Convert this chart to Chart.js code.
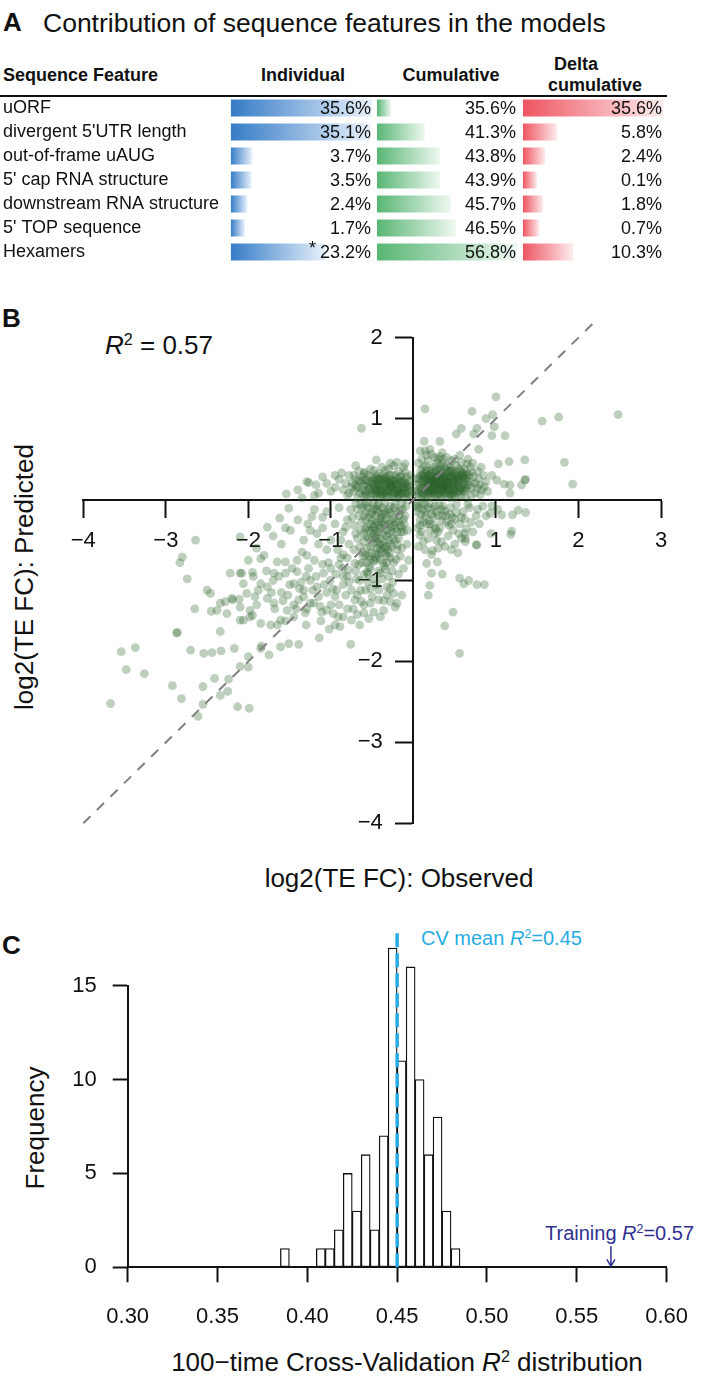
<!DOCTYPE html>
<html>
<head>
<meta charset="utf-8">
<script src="https://cdn.jsdelivr.net/npm/chart.js@4.4.1/dist/chart.umd.min.js"></script>
<style>
  html, body { margin: 0; padding: 0; background: #fff; }
  body { width: 709px; height: 1379px; position: relative; overflow: hidden;
         font-family: "Liberation Sans", Arial, sans-serif; color: #111; }
  .t { position: absolute; white-space: nowrap; line-height: 1; }
  .l { transform: translate(0, -50%); }
  .c { transform: translate(-50%, -50%); }
  .v { transform: translate(-50%, -50%) rotate(-90deg); }
  sup { font-size: 62%; vertical-align: 0.55em; line-height: 0; }
  canvas { position: absolute; }
  .rule { position: absolute; left: 0; top: 95px; width: 667px; height: 2px; background: #111; }
</style>
</head>
<body>
<!-- panel A text -->
<div class="t l" style="left:3px;top:22px;font-size:26px;font-weight:bold">A</div>
<div class="t l" style="left:43px;top:23px;font-size:26.5px">Contribution of sequence features in the models</div>
<div class="t l" style="left:3px;top:75px;font-size:18px;font-weight:bold">Sequence Feature</div>
<div class="t c" style="left:303px;top:75px;font-size:18px;font-weight:bold">Individual</div>
<div class="t c" style="left:451px;top:75px;font-size:18px;font-weight:bold">Cumulative</div>
<div class="t c" style="left:576px;top:64px;font-size:18px;font-weight:bold">Delta</div>
<div class="t c" style="left:595px;top:85px;font-size:18px;font-weight:bold">cumulative</div>
<div class="rule"></div>
<canvas id="cInd" width="372" height="168" style="left:0;top:96px"></canvas>
<canvas id="cCum" width="140" height="168" style="left:377px;top:96px"></canvas>
<canvas id="cDel" width="140" height="168" style="left:523px;top:96px"></canvas>

<!-- panel B text -->
<div class="t l" style="left:2px;top:318px;font-size:26px;font-weight:bold">B</div>
<div class="t l" style="left:105px;top:345px;font-size:26px"><i>R</i><sup>2</sup> = 0.57</div>
<div class="t v" style="left:24px;top:577px;font-size:26px">log2(TE FC): Predicted</div>
<div class="t c" style="left:399px;top:878px;font-size:26px">log2(TE FC): Observed</div>
<canvas id="cScatter" width="709" height="610" style="left:0;top:290px"></canvas>

<!-- panel C text -->
<div class="t l" style="left:2px;top:945px;font-size:26px;font-weight:bold">C</div>
<div class="t l" style="left:421px;top:938px;font-size:20px;color:#29abe2">CV mean <i>R</i><sup>2</sup>=0.45</div>
<div class="t l" style="left:545px;top:1233px;font-size:20px;color:#2e3192">Training <i>R</i><sup>2</sup>=0.57</div>
<div class="t v" style="left:35px;top:1128px;font-size:26px">Frequency</div>
<div class="t c" style="left:407px;top:1362px;font-size:26px">100−time Cross-Validation <i>R</i><sup>2</sup> distribution</div>
<canvas id="cHist" width="709" height="479" style="left:0;top:900px"></canvas>

<script>
// ---- panel A: contribution table
const features = ['uORF', "divergent 5'UTR length", 'out-of-frame uAUG', "5' cap RNA structure",
  'downstream RNA structure', "5' TOP sequence", 'Hexamers'];
const individual = [35.6, 35.1, 3.7, 3.5, 2.4, 1.7, 23.2];
const individualNote = ['', '', '', '', '', '', '*'];
const cumulative = [35.6, 41.3, 43.8, 43.9, 45.7, 46.5, 56.8];
const deltaCumulative = [35.6, 5.8, 2.4, 0.1, 1.8, 0.7, 10.3];

// ---- panel B: observed vs predicted log2(TE FC)
const scatterTicksX = [-4, -3, -2, -1, 1, 2, 3];
const scatterTicksY = [-4, -3, -2, -1, 1, 2];
const refLine = [-4, 2.24];
const scatterPoints = [
  // upper / right outliers
  [-0.63,0.88],[0.14,1.12],[1.00,1.27],[0.71,1.09],[0.96,1.05],[0.88,1.00],[2.48,1.05],[1.56,0.97],[1.76,1.02],
  [1.83,0.46],[1.93,0.19],[0.52,0.81],[0.58,0.88],[0.77,0.88],[0.73,0.81],[0.98,0.90],[0.95,0.79],[1.11,0.79],
  [0.79,0.62],[0.13,0.72],[0.32,0.72],[1.03,0.44],[1.16,0.47],[1.35,0.49],[1.35,0.24],[1.36,0.25],[1.31,0.18],
  [1.17,0.18],[1.17,0.08],[1.10,0.19],[1.01,0.24],[0.95,0.30],[0.14,0.60],[0.32,0.53],
  // right, below axis outliers
  [1.20,-0.19],[1.27,-0.13],[1.36,-0.16],[0.93,-0.17],[1.07,-0.19],[1.19,-0.39],[1.18,-0.43],[0.94,-0.42],
  [0.77,-0.56],[0.63,-0.48],[0.16,-0.79],[0.29,-0.77],[0.23,-0.63],[0.35,-0.92],[0.22,-0.91],[0.20,-1.06],
  [0.18,-1.18],[0.56,-0.97],[0.67,-1.00],[0.77,-1.05],[0.86,-1.05],[0.61,-1.04],[0.48,-1.39],[0.38,-1.56],
  [0.56,-1.90],[-0.06,-0.75],[-0.14,-1.18],[0.76,-0.56],[0.63,-0.52],
  // left of origin, sparse
  [-0.45,0.49],[-0.87,0.33],[-1.27,0.21],[-1.29,0.22],[-1.54,0.07],[-1.18,0.18],[-1.05,0.20],[-1.15,0.08],
  [-0.95,0.15],[-1.40,0.12],[-1.10,0.28],[-1.20,0.05],[-1.35,0.02],[-0.28,0.45],[-0.20,0.46],[-0.10,0.44],[-0.60,0.32],
  [-1.51,-0.11],[-1.62,-0.23],[-1.77,-0.34],[-1.49,-0.38],[-1.23,-0.21],[-1.25,-0.38],[-1.33,-0.50],[-1.17,-0.42],
  [-2.64,-0.50],[-2.80,-0.71],[-2.10,-0.46],[-1.81,-0.69],[-1.20,-0.12],[-1.10,-0.22],[-1.28,-0.30],[-1.40,-0.25],
  [-1.15,-0.55],[-1.35,-0.65],[-1.60,-0.55],[-1.70,-0.45],[-1.90,-0.60],[-2.00,-0.75],[-1.55,-0.35],[-1.95,-0.90],
  // lower-left tail
  [-3.67,-2.52],[-3.54,-1.88],[-3.37,-1.83],[-3.48,-2.10],[-3.26,-2.15],[-2.87,-1.65],[-2.86,-1.64],[-2.92,-2.30],
  [-2.81,-2.46],[-2.61,-2.68],[-2.55,-2.53],[-2.55,-2.31],[-2.41,-2.21],[-2.34,-2.42],[-2.25,-2.37],[-2.24,-2.22],
  [-2.13,-2.56],[-1.99,-2.58],[-2.10,-2.06],[-2.00,-2.07],[-2.00,-1.94],[-1.85,-1.84],[-1.75,-1.92],[-1.61,-1.82],
  [-1.51,-1.78],[-1.39,-1.79],[-1.14,-1.71],[-0.76,-1.79],[-1.84,-1.81],[-2.70,-1.86],[-2.54,-1.90],[-2.44,-1.89],
  [-2.33,-1.87],[-2.17,-1.84],[-2.74,-0.98],[-2.65,-1.35],[-2.50,-1.12],[-2.46,-1.16],[-2.83,-0.78],[-2.45,-1.38],
  [-2.34,-1.28],[-2.34,-1.63],[-2.26,-1.41],[-2.19,-1.24],[-2.11,-1.23],[-2.06,-1.49],[-1.98,-1.37],[-1.95,-1.43],
  [-2.22,-0.91],[-2.08,-0.91],[-2.06,-1.04],[-1.85,-0.73],[-1.65,-0.77],[-1.55,-0.77],[-1.41,-0.75],[-1.29,-0.69],
  // lower-left band
  [-2.10,-0.91],[-1.94,-0.95],[-1.85,-1.04],[-1.77,-1.08],[-1.69,-0.91],[-1.55,-0.91],[-1.45,-1.04],[-1.33,-1.12],
  [-1.41,-0.89],[-1.25,-1.00],[-1.17,-1.08],[-1.09,-0.91],[-1.01,-1.00],[-0.93,-1.12],[-0.85,-0.95],[-0.79,-0.87],
  [-0.71,-0.79],[-0.65,-1.00],[-0.54,-0.83],[-0.48,-0.75],[-0.40,-0.91],[-0.32,-1.08],[-0.24,-1.16],[-0.20,-1.28],
  [-2.10,-1.49],[-1.98,-1.45],[-1.85,-1.53],[-1.73,-1.55],[-1.65,-1.55],[-1.61,-1.49],[-1.77,-1.22],[-1.69,-1.28],
  [-1.53,-1.37],[-1.45,-1.30],[-1.39,-1.24],[-1.33,-1.20],[-1.29,-1.35],[-1.21,-1.28],[-1.11,-1.39],[-1.05,-1.37],
  [-0.97,-1.41],[-0.91,-1.45],[-0.95,-1.55],[-0.89,-1.57],[-0.75,-1.49],[-0.65,-1.55],[-0.54,-1.47],[-0.48,-1.39],
  [-0.36,-1.37],[-0.28,-1.26],[-0.22,-1.33],[-0.71,-1.24],[-0.63,-1.26],[-0.52,-1.28],[-0.42,-1.24],[-0.32,-1.18],
  [-2.38,-1.37],[-2.28,-1.26],[-2.20,-1.22],[-2.10,-1.33],[-2.02,-1.16],[-1.90,-1.30],
  [-1.20,-0.75],[-1.10,-0.80],[-1.00,-0.85],[-0.90,-0.80],[-0.80,-0.95],[-0.70,-0.88],[-0.60,-0.92],[-0.55,-1.02],
  [-0.45,-1.05],[-0.38,-0.98],[-0.30,-0.95],[-0.25,-1.02],[-0.18,-0.92],[-0.12,-0.85],[-0.35,-0.82],[-0.62,-0.78],
  [-0.88,-0.72],[-1.05,-1.15],[-0.95,-1.20],[-0.85,-1.05],[-0.75,-1.12],[-0.68,-1.18],[-0.58,-1.12],[-0.50,-1.20],
  [-0.42,-1.12],[-0.36,-1.25],[-0.28,-1.10],[-1.15,-1.20],[-1.30,-0.95],[-1.38,-1.10],[-1.50,-1.05],[-1.60,-1.15],
  [-1.70,-1.00],[-1.25,-1.28],[-1.45,-1.45],[-1.00,-1.30],[-0.80,-1.35],[-0.60,-1.40],[-0.40,-1.45],
  [-1.78,-0.88],[-1.72,-1.15],[-1.63,-0.95],[-1.58,-1.25],[-1.52,-1.18],[-1.47,-0.85],[-1.42,-1.35],[-1.36,-1.02],
  [-1.31,-1.40],[-1.27,-0.85],[-1.22,-1.12],[-1.18,-0.95],[-1.13,-1.32],[-1.08,-1.05],[-1.03,-0.78],[-0.98,-1.10],
  [-0.94,-0.92],[-0.90,-1.30],[-0.86,-0.85],[-0.82,-1.18],[-0.78,-1.02],[-0.73,-1.35],[-0.69,-0.98],[-0.64,-1.12],
  [-0.60,-1.30],[-0.56,-0.90],[-0.52,-1.10],[-1.12,-1.50],[-1.30,-1.55],[-1.02,-1.60],[-0.85,-1.45],[-0.68,-1.42],
  [-1.55,-1.50],[-1.68,-1.35],[-1.88,-1.12],[-1.92,-1.20],
  // dense column below origin
  [-0.70,-0.05],[-0.62,-0.10],[-0.55,-0.04],[-0.48,-0.12],[-0.42,-0.06],[-0.35,-0.14],[-0.28,-0.08],[-0.20,-0.15],
  [-0.14,-0.05],[-0.66,-0.20],[-0.58,-0.25],[-0.50,-0.18],[-0.44,-0.28],[-0.38,-0.22],[-0.30,-0.30],[-0.24,-0.24],
  [-0.16,-0.32],[-0.10,-0.20],[-0.72,-0.32],[-0.64,-0.38],[-0.56,-0.34],[-0.48,-0.42],[-0.40,-0.36],[-0.33,-0.45],
  [-0.26,-0.40],[-0.18,-0.48],[-0.68,-0.48],[-0.60,-0.52],[-0.52,-0.58],[-0.44,-0.52],[-0.36,-0.60],[-0.28,-0.55],
  [-0.20,-0.62],[-0.12,-0.40],[-0.08,-0.55],[-0.62,-0.65],[-0.54,-0.70],[-0.46,-0.66],[-0.40,-0.74],[-0.32,-0.70],
  [-0.24,-0.78],[-0.16,-0.70],[-0.76,-0.12],[-0.80,-0.25],[-0.85,-0.40],[-0.78,-0.55],[-0.72,-0.62],[-0.90,-0.10],
  [-0.95,-0.30],[-1.00,-0.50],[-0.92,-0.62],[-0.85,-0.68],[-1.05,-0.15],[-1.10,-0.35],[-1.05,-0.62],[-0.52,-0.85],
  [-0.45,-0.08],[-0.38,-0.18],[-0.58,-0.15],[-0.52,-0.30],[-0.46,-0.38],[-0.34,-0.32],[-0.22,-0.36],[-0.60,-0.42],
  [-0.50,-0.48],[-0.30,-0.50],[-0.40,-0.62],[-0.56,-0.60],
  [-0.68,-0.12],[-0.63,-0.28],[-0.59,-0.06],[-0.57,-0.46],[-0.54,-0.22],[-0.53,-0.38],[-0.49,-0.06],[-0.47,-0.30],
  [-0.45,-0.46],[-0.43,-0.16],[-0.41,-0.56],[-0.39,-0.28],[-0.37,-0.42],[-0.35,-0.04],[-0.33,-0.24],[-0.31,-0.62],
  [-0.29,-0.16],[-0.27,-0.34],[-0.25,-0.48],[-0.23,-0.10],[-0.21,-0.28],[-0.19,-0.56],[-0.17,-0.20],[-0.15,-0.40],
  [-0.13,-0.12],[-0.11,-0.30],[-0.09,-0.08],[-0.07,-0.38],[-0.65,-0.58],[-0.61,-0.70],[-0.57,-0.78],[-0.51,-0.66],
  [-0.47,-0.76],[-0.43,-0.68],[-0.37,-0.78],[-0.33,-0.58],[-0.29,-0.66],[-0.26,-0.88],[-0.21,-0.74],[-0.14,-0.60],
  [-0.70,-0.42],[-0.74,-0.22],[-0.82,-0.34],[-0.88,-0.50],[-0.80,-0.72],[-0.66,-0.80],[-0.55,-0.92],[-0.42,-0.88],
  [-0.34,-0.86],[-0.48,-0.98],
  [-0.55,-0.10],[-0.52,-0.16],[-0.50,-0.26],[-0.48,-0.34],[-0.46,-0.20],[-0.44,-0.12],[-0.42,-0.40],[-0.40,-0.24],
  [-0.38,-0.10],[-0.36,-0.32],[-0.34,-0.18],[-0.32,-0.38],[-0.30,-0.12],[-0.28,-0.26],[-0.26,-0.18],[-0.24,-0.32],
  [-0.22,-0.06],[-0.20,-0.40],[-0.18,-0.26],[-0.16,-0.14],[-0.14,-0.34],[-0.12,-0.24],[-0.50,-0.38],[-0.46,-0.48],
  [-0.44,-0.60],[-0.40,-0.48],[-0.36,-0.52],[-0.34,-0.66],[-0.30,-0.42],[-0.26,-0.58],[-0.22,-0.50],[-0.48,-0.54],
  [-0.42,-0.32],[-0.38,-0.56],[-0.54,-0.48],[-0.58,-0.36],[-0.60,-0.20],[-0.64,-0.06],[-0.45,-0.72],[-0.39,-0.66],
  [-0.32,-0.78],[-0.28,-0.72],[-0.52,-0.74],[-0.58,-0.68],
  // dense cluster left of origin
  [-0.80,0.05],[-0.75,0.15],[-0.70,0.25],[-0.65,0.08],[-0.60,0.18],[-0.55,0.30],[-0.52,0.04],[-0.48,0.12],
  [-0.45,0.22],[-0.42,0.32],[-0.38,0.06],[-0.35,0.16],[-0.32,0.26],[-0.28,0.10],[-0.25,0.20],[-0.22,0.30],
  [-0.18,0.05],[-0.15,0.14],[-0.12,0.24],[-0.08,0.08],[-0.05,0.18],[-0.03,0.30],[-0.62,0.28],[-0.58,0.10],
  [-0.50,0.20],[-0.40,0.12],[-0.30,0.04],[-0.20,0.12],[-0.10,0.02],[-0.44,0.02],[-0.36,0.24],[-0.26,0.30],
  [-0.16,0.22],[-0.68,0.02],[-0.72,0.10],[-0.85,0.12],[-0.90,0.25],[-0.78,0.30],[-0.66,0.35],[-0.48,0.36],
  [-0.30,0.38],[-0.18,0.35],[-0.08,0.28],[-0.55,0.16],[-0.45,0.08],[-0.33,0.19],[-0.23,0.08],[-0.13,0.18],
  [-0.06,0.12],[-1.00,0.10],[-0.95,0.30],[-0.70,0.42],[-0.24,0.42],[-0.12,0.40],[-0.38,0.40],
  [-0.78,0.08],[-0.74,0.20],[-0.69,0.14],[-0.64,0.22],[-0.61,0.06],[-0.57,0.24],[-0.54,0.12],[-0.51,0.28],
  [-0.47,0.06],[-0.46,0.16],[-0.43,0.26],[-0.41,0.08],[-0.39,0.18],[-0.37,0.30],[-0.34,0.10],[-0.31,0.22],
  [-0.29,0.14],[-0.27,0.24],[-0.24,0.04],[-0.21,0.18],[-0.19,0.26],[-0.17,0.10],[-0.14,0.30],[-0.11,0.14],
  [-0.09,0.20],[-0.07,0.04],[-0.04,0.24],[-0.02,0.10],[-0.56,0.04],[-0.49,0.24],[-0.44,0.14],[-0.36,0.08],
  [-0.33,0.28],[-0.26,0.16],[-0.19,0.02],[-0.13,0.08],[-0.06,0.16],[-0.66,0.16],[-0.59,0.34],[-0.40,0.26],
  [-0.28,0.20],[-0.16,0.28],[-0.82,0.20],[-0.72,0.30],[-0.52,0.38],[-0.34,0.36],[-0.10,0.34],[-0.04,0.06],
  [-0.58,0.06],[-0.56,0.20],[-0.53,0.14],[-0.50,0.08],[-0.48,0.18],[-0.46,0.26],[-0.44,0.10],[-0.42,0.20],
  [-0.40,0.04],[-0.38,0.14],[-0.36,0.20],[-0.34,0.06],[-0.32,0.14],[-0.30,0.22],[-0.28,0.16],[-0.26,0.06],
  [-0.24,0.14],[-0.22,0.22],[-0.20,0.08],[-0.18,0.16],[-0.16,0.06],[-0.14,0.22],[-0.12,0.12],[-0.10,0.08],
  [-0.08,0.16],[-0.52,0.22],[-0.47,0.12],[-0.43,0.18],[-0.39,0.10],[-0.35,0.26],[-0.31,0.10],[-0.27,0.18],
  [-0.23,0.24],[-0.19,0.12],[-0.15,0.08],[-0.11,0.20],[-0.62,0.12],[-0.60,0.24],[-0.66,0.24],[-0.70,0.18],
  [-0.45,0.30],[-0.29,0.30],[-0.20,0.20],[-0.41,0.24],[-0.33,0.04],[-0.25,0.10],
  // dense cluster right of origin
  [0.05,0.05],[0.10,0.15],[0.15,0.25],[0.20,0.08],[0.25,0.18],[0.30,0.30],[0.35,0.10],[0.40,0.22],
  [0.45,0.35],[0.50,0.05],[0.55,0.15],[0.60,0.28],[0.65,0.12],[0.70,0.22],[0.75,0.08],[0.80,0.18],
  [0.85,0.30],[0.08,0.30],[0.12,0.40],[0.18,0.48],[0.22,0.35],[0.28,0.45],[0.32,0.20],[0.38,0.40],
  [0.42,0.12],[0.48,0.25],[0.52,0.42],[0.58,0.05],[0.62,0.38],[0.68,0.30],[0.72,0.45],[0.78,0.35],
  [0.04,0.18],[0.14,0.02],[0.24,0.28],[0.28,0.05],[0.34,0.32],[0.44,0.02],[0.54,0.30],[0.64,0.02],
  [0.70,0.05],[0.90,0.10],[0.88,0.22],[0.82,0.40],[0.06,0.45],[0.16,0.55],[0.26,0.52],[0.36,0.50],
  [0.46,0.48],[0.56,0.55],[0.20,0.20],[0.30,0.14],[0.40,0.30],[0.26,0.10],[0.36,0.24],[0.46,0.16],
  [0.16,0.36],[0.10,0.24],[0.22,0.14],[0.33,0.04],[0.42,0.42],[0.50,0.18],[0.60,0.20],[0.70,0.14],
  [0.38,0.16],[0.18,0.10],[0.12,0.32],[0.28,0.36],[0.48,0.08],[0.32,0.42],[0.58,0.46],[0.66,0.50],
  [0.08,0.60],[0.20,0.62],[0.35,0.58],
  [0.03,0.10],[0.07,0.20],[0.11,0.08],[0.13,0.28],[0.17,0.16],[0.19,0.30],[0.21,0.04],[0.23,0.22],
  [0.27,0.26],[0.29,0.12],[0.31,0.36],[0.33,0.16],[0.37,0.28],[0.39,0.06],[0.41,0.18],[0.43,0.28],
  [0.47,0.12],[0.49,0.32],[0.51,0.22],[0.53,0.10],[0.57,0.24],[0.59,0.34],[0.61,0.10],[0.63,0.26],
  [0.67,0.18],[0.69,0.40],[0.73,0.28],[0.77,0.14],[0.79,0.26],[0.83,0.12],[0.09,0.36],[0.15,0.42],
  [0.25,0.40],[0.35,0.44],[0.45,0.40],[0.55,0.38],[0.65,0.44],[0.05,0.26],[0.15,0.10],[0.25,0.06],
  [0.35,0.20],[0.45,0.26],[0.55,0.06],[0.65,0.32],[0.75,0.20],[0.10,0.50],[0.22,0.56],[0.30,0.50],
  [0.40,0.52],[0.50,0.50],[0.13,0.18],[0.19,0.24],[0.27,0.18],[0.33,0.26],[0.39,0.22],[0.43,0.08],
  [0.49,0.16],[0.57,0.14],[0.24,0.12],[0.31,0.08],[0.37,0.12],[0.17,0.04],[0.21,0.28],[0.41,0.36],
  [0.47,0.04],[0.53,0.26],[0.61,0.32],[0.71,0.34],[0.81,0.06],[0.86,0.16],
  [0.06,0.08],[0.08,0.14],[0.10,0.04],[0.12,0.22],[0.14,0.12],[0.16,0.20],[0.18,0.30],[0.20,0.14],
  [0.22,0.24],[0.24,0.18],[0.26,0.34],[0.28,0.22],[0.30,0.06],[0.32,0.28],[0.34,0.14],[0.36,0.34],
  [0.38,0.26],[0.40,0.10],[0.42,0.24],[0.44,0.34],[0.46,0.22],[0.48,0.30],[0.50,0.12],[0.52,0.34],
  [0.54,0.20],[0.56,0.10],[0.58,0.30],[0.60,0.12],[0.62,0.20],[0.64,0.30],
  [0.07,0.26],[0.09,0.10],[0.11,0.30],[0.13,0.06],[0.15,0.32],[0.17,0.22],[0.19,0.12],[0.21,0.38],
  [0.23,0.08],[0.25,0.24],[0.27,0.14],[0.29,0.30],[0.31,0.18],[0.33,0.38],[0.35,0.06],[0.37,0.18],
  [0.39,0.32],[0.41,0.14],[0.43,0.20],[0.45,0.06],[0.47,0.36],[0.49,0.10],[0.51,0.28],[0.53,0.18],
  [0.55,0.28],[0.57,0.36],[0.59,0.16],[0.61,0.26],[0.63,0.14],[0.65,0.22],
  [0.12,0.14],[0.18,0.18],[0.24,0.22],[0.30,0.24],[0.36,0.16],[0.42,0.20],[0.48,0.20],[0.54,0.24],
  [0.20,0.32],[0.28,0.28],[0.34,0.22],[0.40,0.16],[0.46,0.28],[0.16,0.26],[0.22,0.10],[0.32,0.12],
  [0.38,0.08],[0.44,0.12],[0.26,0.20],[0.36,0.28],
  // right of origin, below axis
  [0.05,-0.05],[0.12,-0.12],[0.20,-0.05],[0.28,-0.15],[0.36,-0.08],[0.44,-0.18],[0.52,-0.06],[0.60,-0.15],
  [0.68,-0.10],[0.76,-0.20],[0.84,-0.08],[0.08,-0.25],[0.16,-0.30],[0.24,-0.22],[0.32,-0.35],[0.40,-0.28],
  [0.48,-0.38],[0.56,-0.30],[0.64,-0.36],[0.72,-0.40],[0.10,-0.40],[0.18,-0.48],[0.26,-0.42],[0.34,-0.52],
  [0.42,-0.45],[0.50,-0.55],[0.58,-0.48],[0.06,-0.58],[0.14,-0.62],[0.22,-0.68],[0.30,-0.60],[0.04,-0.15],
  [0.15,-0.20],[0.35,-0.20],[0.45,-0.10],[0.25,-0.32],[0.05,-0.35],[0.62,-0.42],[0.80,-0.30],[0.88,-0.20],
  [0.95,-0.08],[1.02,-0.12],
  [0.03,-0.08],[0.09,-0.18],[0.14,-0.06],[0.19,-0.26],[0.23,-0.12],[0.27,-0.36],[0.31,-0.06],[0.34,-0.26],
  [0.38,-0.14],[0.43,-0.32],[0.47,-0.22],[0.52,-0.16],[0.55,-0.42],[0.62,-0.24],[0.66,-0.06],[0.12,-0.52],
  [0.20,-0.38],[0.28,-0.50],[0.08,-0.44],[0.38,-0.58],[0.46,-0.62],[0.54,-0.66],[0.70,-0.28],[0.78,-0.12],
  [0.06,-0.10],[0.10,-0.06],[0.14,-0.16],[0.18,-0.10],[0.22,-0.18],[0.26,-0.08],[0.30,-0.20],[0.34,-0.12],
  [0.40,-0.20],[0.46,-0.30],[0.12,-0.28],[0.20,-0.30],[0.30,-0.40],[0.08,-0.32],[0.50,-0.24],[0.58,-0.22]
];

// ---- panel C: 100-time cross-validation R^2 histogram
const binStarts = [0.385, 0.405, 0.410, 0.415, 0.420, 0.425, 0.430, 0.435, 0.440,
  0.445, 0.450, 0.455, 0.460, 0.465, 0.470, 0.475, 0.480];
const binCounts = [1, 1, 1, 2, 5, 3, 6, 2, 7, 17, 11, 16, 10, 6, 8, 3, 1];
const binWidth = 0.005;
const histTicksX = [0.30, 0.35, 0.40, 0.45, 0.50, 0.55, 0.60];
const histTicksY = [0, 5, 10, 15];
const cvMeanR2 = 0.45;
const cvLineTop = 17.8;
const trainingR2 = 0.569;

const FONT = '"Liberation Sans", Arial, sans-serif';
const INK = '#111';

// excel-like data bars: smallest value gets 10% of the cell
function dataBarRange(vals) {
  const lo = Math.min(...vals), hi = Math.max(...vals);
  return { min: lo - (hi - lo) / 9, max: hi };
}

function gradientFill(c0, c1) {
  return function(ctx) {
    const chart = ctx.chart;
    if (!chart.chartArea || ctx.type !== 'data') return c0;
    const xs = chart.scales.x;
    const x0 = xs.getPixelForValue(xs.min);
    const x1 = xs.getPixelForValue(ctx.raw);
    const g = chart.ctx.createLinearGradient(x0, 0, x1, 0);
    g.addColorStop(0, c0);
    g.addColorStop(1, c1);
    return g;
  };
}

const valueLabels = {
  id: 'valueLabels',
  afterDatasetsDraw(chart, args, opts) {
    const { ctx, chartArea } = chart;
    const meta = chart.getDatasetMeta(0);
    ctx.save();
    ctx.font = '18px ' + FONT;
    ctx.fillStyle = INK;
    ctx.textAlign = 'right';
    ctx.textBaseline = 'middle';
    meta.data.forEach((bar, i) => {
      const txt = opts.values[i].toFixed(1) + '%';
      ctx.fillText(txt, chartArea.right - 1, bar.y + 1);
      if (opts.notes && opts.notes[i]) {
        const w = ctx.measureText(txt).width;
        ctx.fillText(opts.notes[i], chartArea.right - 1 - w - 4, bar.y - 3);
      }
    });
    ctx.restore();
  }
};

function tableColumn(id, values, colors, notes, showNames) {
  const r = dataBarRange(values);
  const yScale = {
    display: showNames,
    grid: { display: false },
    border: { display: false },
    ticks: { autoSkip: false, crossAlign: 'far', color: INK, font: { size: 18, family: FONT } }
  };
  if (showNames) {
    yScale.afterFit = s => { s.width = 227.7; s.paddingTop = 0; s.paddingBottom = 0; };
  }
  return new Chart(document.getElementById(id), {
    type: 'bar',
    data: {
      labels: features,
      datasets: [{
        data: values,
        base: r.min,
        backgroundColor: gradientFill(colors[0], colors[1]),
        borderWidth: 0,
        barPercentage: 0.71,
        categoryPercentage: 1
      }]
    },
    options: {
      responsive: false,
      animation: false,
      indexAxis: 'y',
      layout: { padding: { left: showNames ? 3 : 0, right: 0, top: 0, bottom: 0 } },
      plugins: {
        legend: { display: false },
        tooltip: { enabled: false },
        valueLabels: { values: values, notes: notes }
      },
      scales: {
        x: { display: false, min: r.min, max: r.max },
        y: yScale
      }
    },
    plugins: [valueLabels]
  });
}

tableColumn('cInd', individual, ['#347bc6', '#e9f2fb'], individualNote, true);
tableColumn('cCum', cumulative, ['#58b674', '#eff8f1'], null, false);
tableColumn('cDel', deltaCumulative, ['#ee5561', '#fdeced'], null, false);

// ---- scatter
function minusFmt(v) { return v < 0 ? '\u2212' + Math.abs(v) : String(v); }

function axisStyle(ticks, tl, pad) {
  return {
    border: { color: INK, width: 2 },
    grid: { drawOnChartArea: false, drawTicks: true, tickLength: tl, tickWidth: 2, tickColor: INK },
    ticks: { padding: pad, color: INK, font: { size: 22, family: FONT }, maxRotation: 0 },
    afterBuildTicks(s) { s.ticks = ticks.map(v => ({ value: v })); }
  };
}

const sx = axisStyle(scatterTicksX, 17, 11);
sx.ticks.callback = minusFmt;
const sy = axisStyle(scatterTicksY, 17, 13);
// labels of an axis placed at x = 0 sit on the line itself; trailing spaces push them left of the ticks
sy.ticks.callback = v => minusFmt(v) + '     ';

new Chart(document.getElementById('cScatter'), {
  type: 'scatter',
  data: {
    datasets: [
      {
        type: 'line',
        data: refLine.map(v => ({ x: v, y: v })),
        borderColor: '#808080',
        borderWidth: 2,
        borderDash: [10, 9],
        pointRadius: 0,
        clip: false,
        order: 0
      },
      {
        data: scatterPoints.map(p => ({ x: p[0], y: p[1] })),
        backgroundColor: 'rgba(40,95,40,0.3)',
        borderWidth: 0,
        pointRadius: 4.4,
        order: 1
      }
    ]
  },
  options: {
    responsive: false,
    animation: false,
    layout: { padding: { left: 83.3, right: 48, top: 47.7, bottom: 76.7 } },
    plugins: { legend: { display: false }, tooltip: { enabled: false } },
    scales: {
      x: Object.assign({ type: 'linear', min: -4, max: 3, position: { y: 0 } }, sx),
      y: Object.assign({ type: 'linear', min: -4, max: 2, position: { x: 0 } }, sy)
    }
  }
});

// ---- histogram
const trainingArrow = {
  id: 'trainingArrow',
  afterDatasetsDraw(chart) {
    const { ctx, scales } = chart;
    const x = scales.x.getPixelForValue(trainingR2);
    const yb = scales.y.getPixelForValue(0) - 1;
    const yt = yb - 20;
    ctx.save();
    ctx.strokeStyle = '#2e3192';
    ctx.lineWidth = 1.5;
    ctx.beginPath();
    ctx.moveTo(x, yt); ctx.lineTo(x, yb);
    ctx.moveTo(x - 4, yb - 7); ctx.lineTo(x, yb); ctx.lineTo(x + 4, yb - 7);
    ctx.stroke();
    ctx.restore();
  }
};

const hx = axisStyle(histTicksX, 15, 21);
hx.ticks.callback = v => v.toFixed(2);
hx.offset = false;
hx.grid.offset = false;
hx.afterFit = s => { s.height = 111.7; };
const hy = axisStyle(histTicksY, 15, 16);
hy.afterFit = s => { s.width = 127.7; };

new Chart(document.getElementById('cHist'), {
  type: 'bar',
  data: {
    datasets: [
      {
        type: 'line',
        data: [{ x: cvMeanR2, y: 0 }, { x: cvMeanR2, y: cvLineTop }],
        borderColor: '#29abe2',
        borderWidth: 3.5,
        borderDash: [14, 6],
        pointRadius: 0,
        clip: false,
        order: 0
      },
      {
        type: 'bar',
        data: binStarts.map((b, i) => ({ x: b + binWidth / 2, y: binCounts[i] })),
        backgroundColor: '#fff',
        borderColor: INK,
        borderWidth: 1.3,
        borderSkipped: false,
        barPercentage: 1,
        categoryPercentage: 1,
        clip: false,
        order: 1
      }
    ]
  },
  options: {
    responsive: false,
    animation: false,
    layout: { padding: { left: 0, right: 23.3, top: 85.7, bottom: 0 } },
    plugins: { legend: { display: false }, tooltip: { enabled: false } },
    scales: {
      x: Object.assign({ type: 'linear', min: 0.3, max: 0.6 }, hx),
      y: Object.assign({ type: 'linear', min: 0, max: 15 }, hy)
    }
  },
  plugins: [trainingArrow]
});
</script>
</body>
</html>
